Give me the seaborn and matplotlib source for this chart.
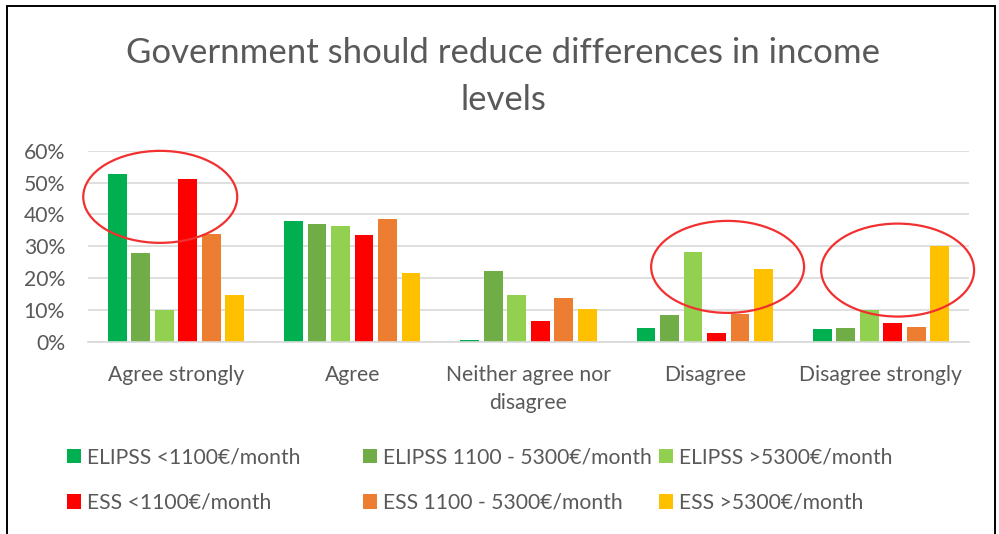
import matplotlib
matplotlib.use("Agg")
import matplotlib.pyplot as plt
import seaborn as sns
import pandas as pd
from matplotlib.patches import Ellipse, Rectangle
from matplotlib.lines import Line2D

categories = ["Agree strongly", "Agree", "Neither agree nor\ndisagree", "Disagree", "Disagree strongly"]
series = ["ELIPSS <1100€/month", "ELIPSS 1100 - 5300€/month", "ELIPSS >5300€/month",
          "ESS <1100€/month", "ESS 1100 - 5300€/month", "ESS >5300€/month"]
elipss_low = [52.7, 38.0, 0.5, 4.4, 3.9]
elipss_mid = [28.0, 36.9, 22.1, 8.4, 4.3]
elipss_high = [9.9, 36.5, 14.8, 28.1, 9.9]
ess_low = [51.0, 33.4, 6.5, 2.8, 5.8]
ess_mid = [33.7, 38.5, 13.7, 8.8, 4.7]
ess_high = [14.7, 21.5, 10.4, 22.8, 30.1]
colors = ["#00B050", "#70AD47", "#92D050", "#FF0000", "#ED7D31", "#FFC000"]
yticks = [0, 10, 20, 30, 40, 50, 60]
ytick_labels = ["0%", "10%", "20%", "30%", "40%", "50%", "60%"]

values = [elipss_low, elipss_mid, elipss_high, ess_low, ess_mid, ess_high]
rows = []
for s, vals in zip(series, values):
    for c, v in zip(categories, vals):
        rows.append({"category": c, "series": s, "value": v})
df = pd.DataFrame(rows)

sns.set_theme(style="white")
plt.rcParams["font.family"] = ["Lato", "DejaVu Sans"]
TXT = "#595959"
FS = 15.2

fig = plt.figure(figsize=(9.99, 5.34), dpi=100)
ax = fig.add_axes([88 / 999, 1 - 341.7 / 534, 881 / 999, 191 / 534])

sns.barplot(data=df, x="category", y="value", hue="series", hue_order=series,
            order=categories, palette=colors, gap=0.2, width=0.8,
            errorbar=None, legend=False, ax=ax, saturation=1, edgecolor="none")

ax.set_ylim(0, 60)
ax.set_xlim(-0.5, 4.5)
ax.set_yticks(yticks)
ax.set_yticklabels(ytick_labels, fontsize=FS, color=TXT)
ax.yaxis.grid(True, color="#D9D9D9", linewidth=1.2)
ax.set_axisbelow(True)
ax.tick_params(axis="y", length=0, pad=16.5)
ax.tick_params(axis="x", length=0, pad=16.5, labelsize=FS, labelcolor=TXT)
for lab in ax.get_xticklabels():
    lab.set_linespacing(1.55)
ax.set_xlabel("")
ax.set_ylabel("")
for sp in ["top", "right", "left"]:
    ax.spines[sp].set_visible(False)
ax.spines["bottom"].set_color("#D9D9D9")
ax.spines["bottom"].set_linewidth(1.2)
ax.set_facecolor("none")

# red ellipses (annotation)
for (cx, cy, w, h) in [(-0.09, 45.5, 0.874, 28.9), (3.13, 23.5, 0.868, 28.9), (4.095, 22.5, 0.868, 29.2)]:
    ax.add_patch(Ellipse((cx, cy), w, h, fill=False, edgecolor="#F23030",
                         linewidth=1.6, clip_on=False, zorder=5))

# title
fig.text(503.5 / 999, 1 - 63 / 534, "Government should reduce differences in income",
         ha="center", va="baseline", fontsize=25, color=TXT)
fig.text(503.5 / 999, 1 - 110 / 534, "levels",
         ha="center", va="baseline", fontsize=25, color=TXT)

# legends: three columns
handles = [Rectangle((0, 0), 1, 1, facecolor=c, edgecolor="none") for c in colors]
col_x = [67, 363, 659]
for i, x in enumerate(col_x):
    hs = [handles[i], handles[i + 3]]
    ls = [series[i], series[i + 3]]
    fig.legend(hs, ls, loc="upper left", bbox_to_anchor=(x / 999, 1 - 447.5 / 534),
               frameon=False, fontsize=FS, handlelength=0.66, handleheight=0.66,
               handletextpad=0.28, labelspacing=1.2, labelcolor=TXT,
               borderaxespad=0, borderpad=0)

# outer frame
fig.add_artist(Line2D([7 / 999, 7 / 999], [0, 1 - 6 / 534], color="black", linewidth=1.4))
fig.add_artist(Line2D([7 / 999, 995 / 999], [1 - 6 / 534, 1 - 6 / 534], color="black", linewidth=1.4))
fig.add_artist(Line2D([995 / 999, 995 / 999], [0, 1 - 6 / 534], color="black", linewidth=1.4))

fig.savefig("out.png", dpi=100, facecolor="white")
